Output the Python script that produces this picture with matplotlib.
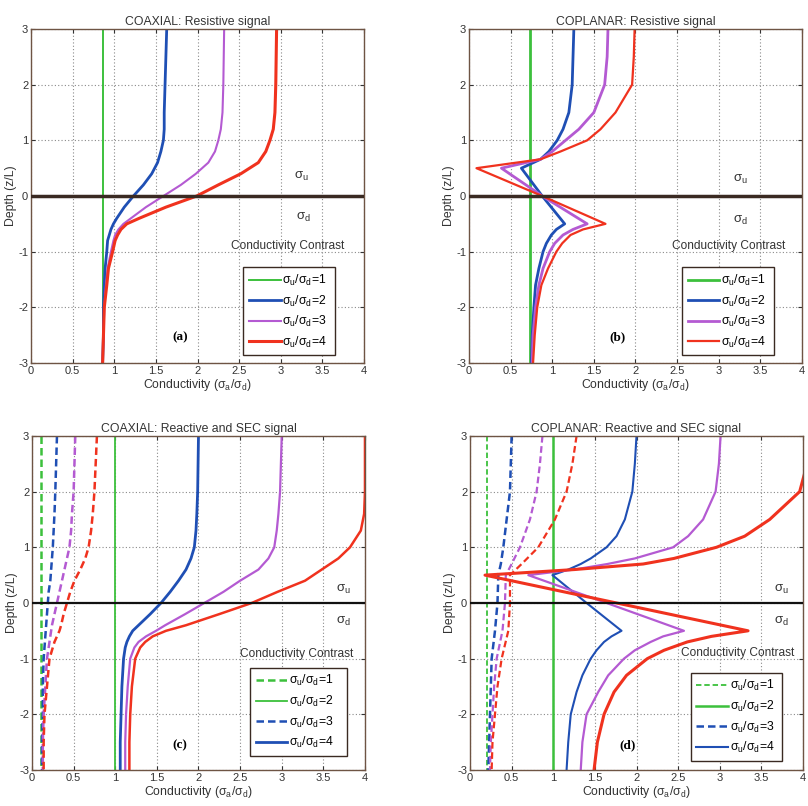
import matplotlib
matplotlib.use("Agg")
import matplotlib.pyplot as plt

plt.rcParams['font.family'] = ['Liberation Sans', 'DejaVu Sans']
plt.rcParams['mathtext.default'] = 'regular'
plt.rcParams['axes.unicode_minus'] = False

GREEN = '#3cc03c'
BLUE = '#1f4fb4'
PURPLE = '#b45ad2'
RED = '#f0321e'
EDGE = '#6e5444'

# ---- (a) COAXIAL resistive ----
za = [3, 2, 1.5, 1.2, 1, 0.8, 0.6, 0.4, 0.2, 0, -0.2, -0.4, -0.5, -0.6, -0.7, -0.8, -1, -1.3, -1.6, -2, -2.5, -3]
a_green = [0.86] * len(za)
a_blue = [1.63, 1.61, 1.60, 1.60, 1.59, 1.56, 1.52, 1.45, 1.35, 1.23, 1.12, 1.03, 0.99, 0.96, 0.94, 0.92, 0.91, 0.89, 0.88, 0.87, 0.87, 0.86]
a_purple = [2.32, 2.31, 2.30, 2.28, 2.25, 2.21, 2.13, 1.98, 1.80, 1.59, 1.38, 1.20, 1.11, 1.05, 1.01, 0.99, 0.96, 0.92, 0.90, 0.88, 0.87, 0.86]
a_red = [2.95, 2.94, 2.93, 2.91, 2.87, 2.82, 2.73, 2.52, 2.25, 1.99, 1.62, 1.30, 1.15, 1.08, 1.04, 1.01, 0.98, 0.93, 0.91, 0.88, 0.87, 0.86]

# ---- (b) COPLANAR resistive ----
zb = [3, 2.5, 2, 1.5, 1.2, 1, 0.8, 0.66, 0.5, 0, -0.5, -0.6, -0.7, -0.85, -1, -1.3, -1.6, -2, -2.5, -3]
b_green = [0.73] * len(zb)
b_blue = [1.26, 1.25, 1.24, 1.20, 1.13, 1.06, 0.96, 0.86, 0.63, 0.88, 1.15, 1.05, 0.99, 0.93, 0.89, 0.84, 0.80, 0.78, 0.76, 0.75]
b_purple = [1.67, 1.66, 1.63, 1.50, 1.32, 1.16, 1.00, 0.86, 0.39, 0.88, 1.42, 1.25, 1.13, 1.03, 0.97, 0.89, 0.84, 0.80, 0.77, 0.76]
b_red = [1.99, 1.98, 1.96, 1.76, 1.58, 1.42, 1.10, 0.86, 0.09, 0.88, 1.64, 1.37, 1.22, 1.12, 1.05, 0.95, 0.87, 0.82, 0.79, 0.77]

# ---- (c) COAXIAL reactive and SEC ----
zc = [3, 2, 1.6, 1.3, 1, 0.8, 0.6, 0.4, 0.2, 0, -0.2, -0.4, -0.5, -0.6, -0.7, -0.8, -1, -1.5, -2, -2.5, -3]
c_green_d = [0.11] * len(zc)
c_green_s = [1.0] * len(zc)
c_blue_d = [0.30, 0.28, 0.27, 0.26, 0.25, 0.24, 0.23, 0.22, 0.20, 0.19, 0.18, 0.17, 0.165, 0.16, 0.155, 0.15, 0.14, 0.13, 0.13, 0.12, 0.12]
c_blue_s = [2.00, 1.99, 1.98, 1.97, 1.95, 1.91, 1.85, 1.76, 1.66, 1.55, 1.42, 1.28, 1.21, 1.17, 1.14, 1.12, 1.10, 1.08, 1.07, 1.06, 1.06]
c_purple_d = [0.52, 0.50, 0.48, 0.47, 0.45, 0.42, 0.39, 0.36, 0.33, 0.30, 0.27, 0.24, 0.23, 0.22, 0.21, 0.20, 0.18, 0.16, 0.14, 0.13, 0.13]
c_purple_s = [3.00, 2.98, 2.96, 2.94, 2.91, 2.84, 2.72, 2.50, 2.30, 2.07, 1.84, 1.60, 1.49, 1.37, 1.28, 1.23, 1.18, 1.15, 1.13, 1.12, 1.12]
c_red_d = [0.78, 0.75, 0.73, 0.71, 0.68, 0.64, 0.58, 0.51, 0.46, 0.42, 0.38, 0.35, 0.33, 0.30, 0.27, 0.25, 0.21, 0.18, 0.15, 0.14, 0.14]
c_red_s = [4.00, 4.00, 3.99, 3.95, 3.82, 3.68, 3.48, 3.28, 2.95, 2.64, 2.25, 1.85, 1.61, 1.45, 1.36, 1.30, 1.24, 1.20, 1.18, 1.17, 1.17]

# ---- (d) COPLANAR reactive and SEC ----
zd_s = [3, 2.5, 2, 1.5, 1.2, 1, 0.8, 0.7, 0.6, 0.5, 0, -0.5, -0.6, -0.7, -0.85, -1, -1.3, -1.6, -2, -2.5, -3]
zd_d = [3, 2.5, 2, 1.5, 1, 0.7, 0.5, 0, -0.5, -1, -1.5, -2, -2.5, -3]
d_green_d = [0.20] * len(zd_d)
d_green_s = [1.0] * len(zd_s)
d_blue_d = [0.50, 0.49, 0.48, 0.44, 0.40, 0.37, 0.34, 0.33, 0.30, 0.26, 0.25, 0.24, 0.23, 0.22]
d_blue_s = [2.00, 1.98, 1.95, 1.86, 1.76, 1.64, 1.45, 1.33, 1.18, 0.99, 1.40, 1.82, 1.70, 1.61, 1.52, 1.45, 1.35, 1.28, 1.21, 1.18, 1.16]
d_purple_d = [0.87, 0.84, 0.80, 0.72, 0.60, 0.50, 0.43, 0.42, 0.39, 0.32, 0.29, 0.27, 0.25, 0.24]
d_purple_s = [3.01, 2.99, 2.95, 2.80, 2.62, 2.44, 1.98, 1.65, 1.25, 0.70, 1.64, 2.57, 2.32, 2.17, 1.98, 1.85, 1.66, 1.54, 1.40, 1.35, 1.33]
d_red_d = [1.28, 1.23, 1.16, 1.02, 0.82, 0.62, 0.48, 0.48, 0.46, 0.38, 0.33, 0.30, 0.27, 0.26]
d_red_s = [4.15, 4.05, 3.96, 3.60, 3.30, 2.96, 2.45, 2.08, 1.25, 0.18, 1.76, 3.34, 2.90, 2.61, 2.33, 2.13, 1.88, 1.73, 1.61, 1.53, 1.49]

ratio_labels = [r'σ$_u$/σ$_d$=%d' % k for k in range(1, 5)]
xticks = [0, 0.5, 1, 1.5, 2, 2.5, 3, 3.5, 4]
xticklabels = ['0', '0.5', '1', '1.5', '2', '2.5', '3', '3.5', '4']
yticks = [-3, -2, -1, 0, 1, 2, 3]

fig = plt.figure(figsize=(8.08, 8.06), dpi=100)
ax_a = fig.add_axes([0.0384, 0.5496, 0.4121, 0.4144])
ax_b = fig.add_axes([0.5804, 0.5496, 0.4121, 0.4144])
ax_c = fig.add_axes([0.0396, 0.0447, 0.4121, 0.4144])
ax_d = fig.add_axes([0.5817, 0.0447, 0.4121, 0.4144])


def style(ax, title, letter, su, sd, ctx, cty, leg_box, zero_col, zero_lw):
    ax.set_xlim(0, 4)
    ax.set_ylim(-3, 3)
    ax.set_xticks(xticks)
    ax.set_xticklabels(xticklabels)
    ax.set_yticks(yticks)
    ax.tick_params(direction='in', top=True, right=True, length=3, labelsize=8,
                   colors='#333333', pad=2)
    ax.grid(True, linestyle=(0, (1, 2)), color='#8a8a8a', linewidth=0.8)
    ax.set_axisbelow(True)
    for s in ax.spines.values():
        s.set_color(EDGE)
        s.set_linewidth(1.0)
    ax.axhline(0, color=zero_col, lw=zero_lw, zorder=3)
    ax.set_title(title, fontsize=8.8, color='#333333', pad=3)
    ax.set_xlabel(r'Conductivity (σ$_a$/σ$_d$)', fontsize=8.8, color='#333333', labelpad=1)
    ax.set_ylabel('Depth (z/L)', fontsize=8.8, color='#333333', labelpad=1)
    ax.text(su[0], su[1], r'σ$_u$', fontsize=9.5, color='#333333', ha='center', va='center')
    ax.text(sd[0], sd[1], r'σ$_d$', fontsize=9.5, color='#333333', ha='center', va='center')
    ax.text(ctx, cty, 'Conductivity Contrast', fontsize=8.6, color='#333333',
            ha='center', va='center')
    ax.text(letter[1], letter[2], letter[0], fontsize=9.5, fontweight='bold',
            family='Liberation Serif', ha='center', va='center')
    leg = ax.legend(ratio_labels, loc='lower left', bbox_to_anchor=leg_box, mode='expand',
                    borderaxespad=0, fontsize=8.8, handlelength=2.6, handletextpad=0.15,
                    labelspacing=0.45, borderpad=0.45, fancybox=False, framealpha=1)
    leg.get_frame().set_edgecolor('#3a2a22')
    leg.get_frame().set_linewidth(1.0)


# (a)
ax_a.plot(a_green, za, color=GREEN, lw=1.4)
ax_a.plot(a_blue, za, color=BLUE, lw=2.0)
ax_a.plot(a_purple, za, color=PURPLE, lw=1.5)
ax_a.plot(a_red, za, color=RED, lw=2.2)
style(ax_a, 'COAXIAL: Resistive signal', ('(a)', 1.79, -2.54), (3.25, 0.35), (3.27, -0.38),
      3.08, -0.9, (0.6375, 0.0233, 0.275, 0.293), '#3a2a22', 2.5)

# (b)
ax_b.plot(b_green, zb, color=GREEN, lw=2.0)
ax_b.plot(b_blue, zb, color=BLUE, lw=2.0)
ax_b.plot(b_purple, zb, color=PURPLE, lw=2.0)
ax_b.plot(b_red, zb, color=RED, lw=1.6)
style(ax_b, 'COPLANAR: Resistive signal', ('(b)', 1.78, -2.54), (3.26, 0.29), (3.26, -0.43),
      3.12, -0.9, (0.64, 0.0233, 0.275, 0.293), '#3a2a22', 2.5)

# (c)
dash = (0, (3, 1.6))
ax_c.plot(c_green_d, zc, color=GREEN, lw=1.8, ls=dash)
ax_c.plot(c_green_s, zc, color=GREEN, lw=1.3)
ax_c.plot(c_blue_d, zc, color=BLUE, lw=1.8, ls=dash)
ax_c.plot(c_blue_s, zc, color=BLUE, lw=2.0)
ax_c.plot(c_purple_d, zc, color=PURPLE, lw=1.8, ls=dash)
ax_c.plot(c_purple_s, zc, color=PURPLE, lw=1.6)
ax_c.plot(c_red_d, zc, color=RED, lw=1.8, ls=dash)
ax_c.plot(c_red_s, zc, color=RED, lw=1.8)
style(ax_c, 'COAXIAL: Reactive and SEC signal', ('(c)', 1.77, -2.56), (3.74, 0.24), (3.74, -0.33),
      3.18, -0.91, (0.655, 0.043, 0.29, 0.272), '#111111', 1.6)

# (d)
ax_d.plot(d_green_d, zd_d, color=GREEN, lw=1.3, ls=dash)
ax_d.plot(d_green_s, zd_s, color=GREEN, lw=1.8)
ax_d.plot(d_blue_d, zd_d, color=BLUE, lw=1.8, ls=dash)
ax_d.plot(d_blue_s, zd_s, color=BLUE, lw=1.5)
ax_d.plot(d_purple_d, zd_d, color=PURPLE, lw=1.6, ls=dash)
ax_d.plot(d_purple_s, zd_s, color=PURPLE, lw=1.6)
ax_d.plot(d_red_d, zd_d, color=RED, lw=1.6, ls=dash)
ax_d.plot(d_red_s, zd_s, color=RED, lw=2.2)
style(ax_d, 'COPLANAR: Reactive and SEC signal', ('(d)', 1.89, -2.56), (3.74, 0.24), (3.74, -0.33),
      3.21, -0.9, (0.6625, 0.028, 0.275, 0.29), '#111111', 1.6)

fig.savefig('out.png', dpi=100)
